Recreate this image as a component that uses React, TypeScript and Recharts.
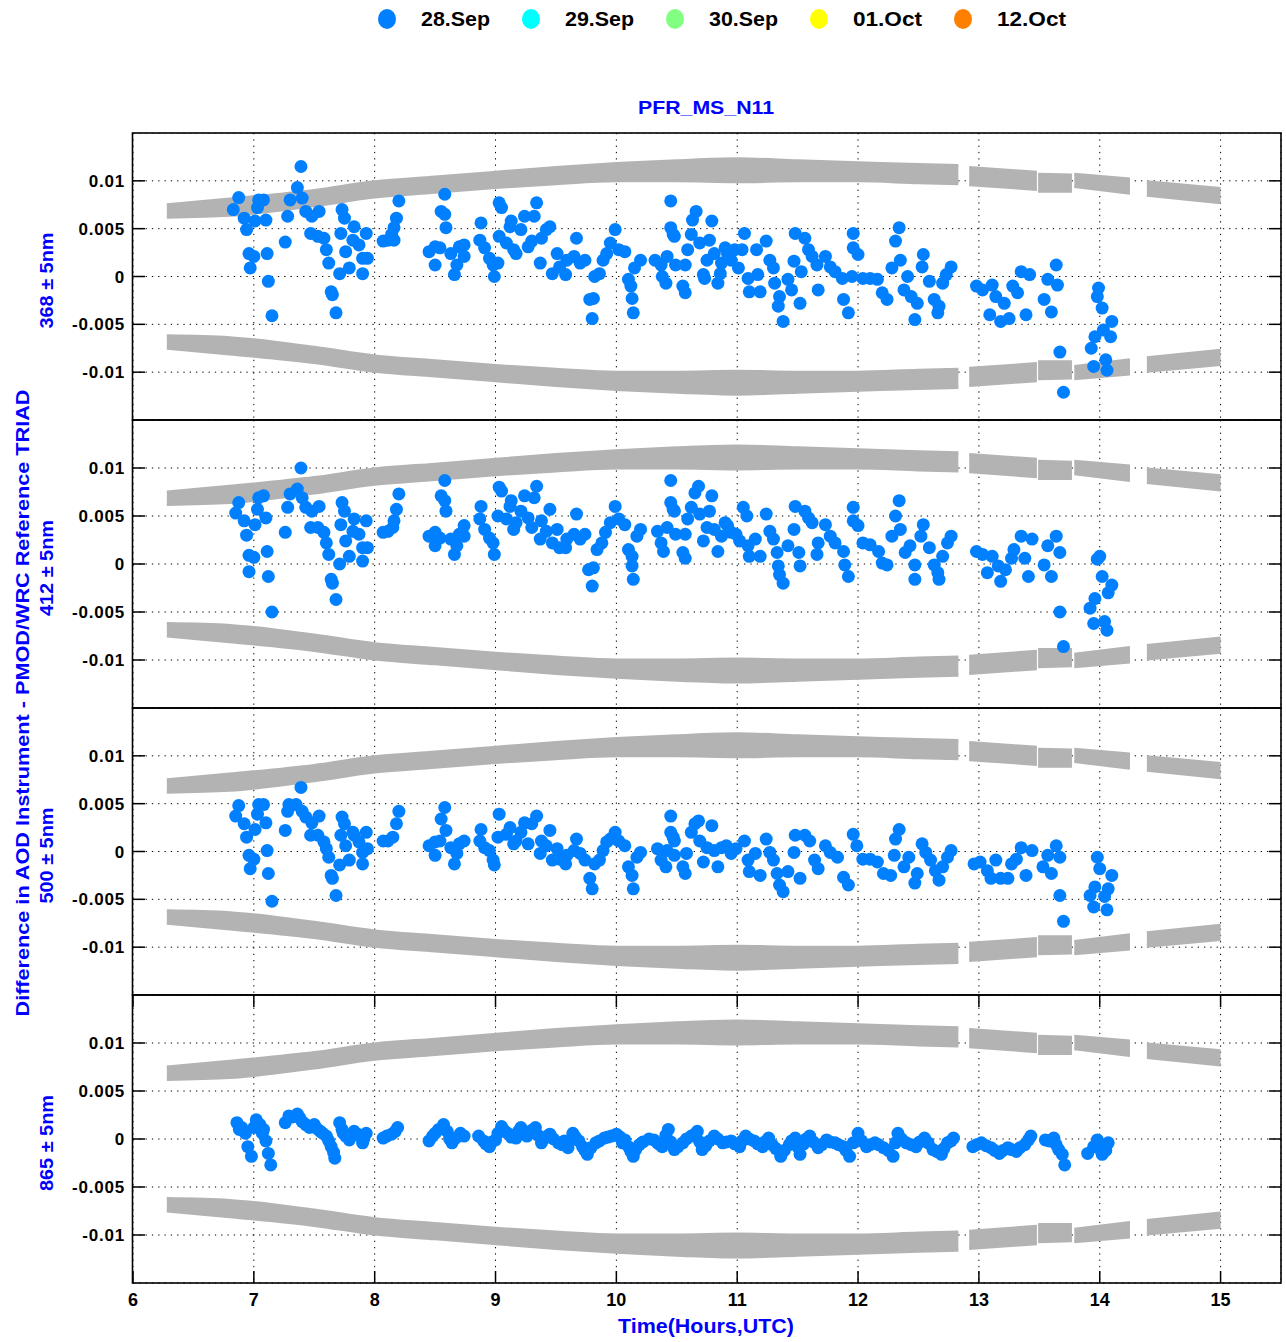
import React from 'react'
import {
  ComposedChart,
  Area,
  Scatter,
  XAxis,
  YAxis,
  CartesianGrid,
} from 'recharts'

// time axis (hours UTC)
const xTicks = [6, 7, 8, 9, 10, 11, 12, 13, 14, 15]
const yTicks = [-0.01, -0.005, 0, 0.005, 0.01]

const legendItems = ['28.Sep', '29.Sep', '30.Sep', '01.Oct', '12.Oct']
const legendColors = ['#0080ff', '#00ffff', '#80ff80', '#ffff00', '#ff8000']

const panelLabels = ['368 ± 5nm', '412 ± 5nm', '500 ± 5nm', '865 ± 5nm']

// grey limit bands (same in every panel), null = gap in the record
const bandX = [6.28, 6.8, 7.5, 8, 8.5, 9, 9.5, 10, 10.5, 11, 11.5, 12, 12.5, 12.83, 12.875, 12.92, 13.48, 13.485, 13.49, 13.77, 13.78, 13.79, 14.25, 14.32, 14.39, 15.0]
const upperLo = [0.0062, 0.0064, 0.0074, 0.0083, 0.0088, 0.0093, 0.0097, 0.01, 0.01, 0.0099, 0.01, 0.01, 0.0098, 0.0097, null, 0.0096, 0.0091, null, 0.0089, 0.0089, null, 0.0094, 0.0087, null, 0.0085, 0.0077]
const upperHi = [0.0075, 0.0081, 0.009, 0.0099, 0.0104, 0.0109, 0.0114, 0.0118, 0.0121, 0.0123, 0.0121, 0.0119, 0.0117, 0.0116, null, 0.0114, 0.0109, null, 0.0107, 0.0106, null, 0.0107, 0.0102, null, 0.0099, 0.0092]
const lowerLo = [-0.0075, -0.0081, -0.009, -0.0099, -0.0104, -0.0109, -0.0114, -0.0118, -0.0121, -0.0123, -0.0121, -0.0119, -0.0117, -0.0116, null, -0.0114, -0.0109, null, -0.0107, -0.0106, null, -0.0107, -0.0102, null, -0.0099, -0.0092]
const lowerHi = [-0.0062, -0.0064, -0.0074, -0.0083, -0.0088, -0.0093, -0.0097, -0.01, -0.01, -0.0099, -0.01, -0.01, -0.0098, -0.0097, null, -0.0096, -0.0091, null, -0.0089, -0.0089, null, -0.0094, -0.0087, null, -0.0085, -0.0077]

// 28.Sep differences, [hour, diff]
const p368: [number, number][] = [
  [6.875, 0.00825], [6.83, 0.007], [6.92, 0.0061], [6.94, 0.0049], [6.96, 0.0024], [7.0, 0.0021], [6.97, 0.0009],
  [7.04, 0.008], [7.08, 0.008], [7.03, 0.0072], [7.01, 0.0058], [7.1, 0.0059], [7.11, 0.0024], [7.12, -0.0005],
  [7.15, -0.0041], [7.26, 0.0036], [7.28, 0.0063], [7.3, 0.008], [7.36, 0.0093], [7.39, 0.0115], [7.4, 0.0082],
  [7.43, 0.0068], [7.48, 0.0063], [7.54, 0.0068], [7.47, 0.0045], [7.53, 0.0042], [7.58, 0.004], [7.6, 0.0028],
  [7.62, 0.0014], [7.64, -0.0016], [7.65, -0.0019], [7.68, -0.0038], [7.71, 0.0003], [7.72, 0.0045], [7.73, 0.007],
  [7.75, 0.0061], [7.76, 0.0026], [7.79, 0.0009], [7.82, 0.0038], [7.83, 0.0052], [7.87, 0.0033], [7.9, 0.0019],
  [7.9, 0.0003], [7.93, 0.0045], [7.94, 0.0019], [8.07, 0.0037], [8.11, 0.0038], [8.14, 0.0044], [8.16, 0.0038],
  [8.18, 0.0061], [8.16, 0.0051], [8.2, 0.0079], [8.45, 0.0026], [8.5, 0.0031], [8.5, 0.0012], [8.54, 0.003],
  [8.55, 0.0068], [8.58, 0.0065], [8.58, 0.0086], [8.59, 0.0051], [8.63, 0.0024], [8.66, 0.0002], [8.68, 0.0012],
  [8.7, 0.0031], [8.74, 0.0033], [8.74, 0.0021], [8.88, 0.0056], [8.87, 0.0038], [8.91, 0.003], [8.95, 0.0019],
  [8.98, 0.0012], [8.99, 0.0], [9.02, 0.0014], [9.03, 0.0077], [9.05, 0.0072], [9.03, 0.0042], [9.09, 0.0035],
  [9.12, 0.0052], [9.13, 0.0058], [9.15, 0.0028], [9.17, 0.0024], [9.21, 0.0049], [9.24, 0.0063], [9.27, 0.0031],
  [9.3, 0.0037], [9.32, 0.0063], [9.34, 0.0077], [9.37, 0.0014], [9.38, 0.004], [9.42, 0.0049], [9.45, 0.0052],
  [9.47, 0.0003], [9.51, 0.0024], [9.53, 0.001], [9.58, 0.0002], [9.59, 0.0017], [9.65, 0.0021], [9.67, 0.004],
  [9.7, 0.0014], [9.74, 0.0017], [9.78, -0.0024], [9.81, -0.0023], [9.8, -0.0044], [9.82, 0.0], [9.86, 0.0003],
  [9.89, 0.0017], [9.92, 0.0024], [9.95, 0.0035], [9.99, 0.0049], [10.02, 0.0028], [10.07, 0.0026], [10.1, -0.0003],
  [10.12, -0.001], [10.13, -0.0023], [10.14, -0.0038], [10.15, 0.0009], [10.2, 0.0017], [10.32, 0.0017],
  [10.37, 0.0012], [10.38, 0.0], [10.41, -0.0007], [10.42, 0.0021], [10.45, 0.0079], [10.45, 0.0051],
  [10.48, 0.0042], [10.49, 0.0012], [10.47, 0.0044], [10.57, 0.0012], [10.59, 0.0028], [10.55, -0.001],
  [10.57, -0.0017], [10.62, 0.0044], [10.63, 0.0059], [10.66, 0.0068], [10.69, 0.0035], [10.72, 0.0002],
  [10.73, -0.0002], [10.75, 0.0017], [10.77, 0.0038], [10.79, 0.0058], [10.81, 0.0024], [10.84, -0.0007],
  [10.86, 0.0003], [10.87, 0.0014], [10.9, 0.003], [10.92, 0.0024], [10.95, 0.0017], [10.98, 0.0028],
  [11.01, 0.0009], [11.04, 0.0028], [11.06, 0.0045], [11.09, -0.0002], [11.1, -0.0016], [11.16, 0.0028],
  [11.17, 0.0002], [11.19, -0.0016], [11.24, 0.0037], [11.27, 0.0017], [11.3, 0.0009], [11.31, -0.0007],
  [11.34, -0.0031], [11.35, -0.0021], [11.38, -0.0047], [11.42, -0.0003], [11.45, -0.0014], [11.47, 0.0016],
  [11.48, 0.0045], [11.52, -0.0028], [11.53, 0.0005], [11.56, 0.004], [11.59, 0.0028], [11.62, 0.0021],
  [11.66, 0.0012], [11.67, -0.0014], [11.73, 0.0021], [11.77, 0.001], [11.81, 0.0005], [11.87, -0.0002],
  [11.88, -0.0024], [11.92, -0.0038], [11.95, 0.0], [11.96, 0.0045], [11.96, 0.003], [12.0, 0.0023],
  [12.04, -0.0002], [12.1, -0.0002], [12.16, -0.0003], [12.2, -0.0017], [12.24, -0.0024], [12.28, 0.0009],
  [12.31, 0.0037], [12.34, 0.0051], [12.35, 0.0017], [12.41, 0.0], [12.38, -0.0014], [12.44, -0.0021],
  [12.47, -0.0045], [12.49, -0.0028], [12.53, 0.001], [12.54, 0.0023], [12.59, -0.0005], [12.63, -0.0024],
  [12.66, -0.0038], [12.67, -0.0031], [12.7, -0.0007], [12.73, 0.0002], [12.77, 0.001], [12.98, -0.001],
  [13.03, -0.0014], [13.09, -0.004], [13.11, -0.0009], [13.14, -0.0021], [13.18, -0.0047], [13.21, -0.0028],
  [13.25, -0.0044], [13.28, -0.001], [13.32, -0.0017], [13.35, 0.0005], [13.39, -0.004], [13.42, 0.0002],
  [13.54, -0.0024], [13.57, -0.0003], [13.6, -0.0037], [13.64, 0.0012], [13.65, -0.0009], [13.67, -0.0079],
  [13.7, -0.0121], [13.93, -0.0075], [13.95, -0.0094], [13.96, -0.0063], [13.98, -0.0021], [13.99, -0.0012],
  [14.02, -0.0033], [14.03, -0.0056], [14.05, -0.0087], [14.06, -0.0098], [14.09, -0.0063], [14.1, -0.0047],
]

const p412: [number, number][] = [
  [6.875, 0.0064], [6.85, 0.0053], [6.92, 0.0045], [6.94, 0.003], [6.96, 0.0009], [7.0, 0.0007], [6.96, -0.0008],
  [7.04, 0.0069], [7.08, 0.0071], [7.03, 0.0057], [7.01, 0.0041], [7.1, 0.0048], [7.11, 0.0013], [7.12, -0.0013],
  [7.15, -0.005], [7.26, 0.0033], [7.28, 0.0059], [7.3, 0.0073], [7.36, 0.0078], [7.39, 0.01], [7.4, 0.0069],
  [7.43, 0.0059], [7.48, 0.0055], [7.54, 0.006], [7.47, 0.0038], [7.53, 0.0038], [7.58, 0.0033], [7.6, 0.0022],
  [7.62, 0.001], [7.64, -0.0016], [7.65, -0.002], [7.68, -0.0037], [7.71, 0.0], [7.72, 0.0041], [7.73, 0.0064],
  [7.75, 0.0055], [7.76, 0.0024], [7.79, 0.0008], [7.82, 0.0034], [7.83, 0.0047], [7.87, 0.0031], [7.9, 0.0017],
  [7.9, 0.0003], [7.93, 0.0045], [7.94, 0.0017], [8.07, 0.0033], [8.11, 0.0034], [8.15, 0.0038], [8.16, 0.0045],
  [8.18, 0.0057], [8.2, 0.0073], [8.45, 0.0029], [8.5, 0.0033], [8.5, 0.0019], [8.54, 0.0027], [8.55, 0.0071],
  [8.58, 0.0066], [8.58, 0.0087], [8.59, 0.0055], [8.63, 0.0026], [8.66, 0.001], [8.68, 0.0019], [8.7, 0.0031],
  [8.74, 0.004], [8.74, 0.0029], [8.88, 0.006], [8.87, 0.0047], [8.91, 0.0036], [8.95, 0.0027], [8.98, 0.0022],
  [8.99, 0.001], [9.02, 0.005], [9.03, 0.008], [9.05, 0.0076], [9.09, 0.0047], [9.12, 0.006], [9.13, 0.0066],
  [9.15, 0.0036], [9.17, 0.0043], [9.21, 0.0055], [9.24, 0.0071], [9.27, 0.0048], [9.3, 0.0038], [9.32, 0.0069],
  [9.34, 0.0081], [9.37, 0.0026], [9.38, 0.0045], [9.42, 0.0034], [9.45, 0.0057], [9.47, 0.0022], [9.51, 0.0036],
  [9.53, 0.0017], [9.58, 0.0017], [9.59, 0.0026], [9.65, 0.0031], [9.67, 0.0052], [9.7, 0.0026], [9.74, 0.0031],
  [9.77, -0.0006], [9.81, -0.0004], [9.8, -0.0023], [9.84, 0.0015], [9.88, 0.0022], [9.91, 0.0033], [9.95, 0.0043],
  [9.99, 0.006], [10.02, 0.0047], [10.07, 0.0041], [10.1, 0.0015], [10.13, 0.0008], [10.13, -0.0002],
  [10.14, -0.0016], [10.17, 0.0029], [10.2, 0.0036], [10.34, 0.0034], [10.37, 0.0022], [10.39, 0.0013],
  [10.42, 0.0038], [10.45, 0.0087], [10.45, 0.0064], [10.48, 0.0055], [10.49, 0.0031], [10.47, 0.0057],
  [10.57, 0.0031], [10.59, 0.0047], [10.55, 0.0012], [10.57, 0.0006], [10.62, 0.0059], [10.65, 0.0074],
  [10.68, 0.0081], [10.69, 0.0052], [10.72, 0.0024], [10.75, 0.0038], [10.77, 0.0055], [10.79, 0.0071],
  [10.81, 0.0036], [10.84, 0.0013], [10.87, 0.0029], [10.9, 0.0043], [10.92, 0.004], [10.95, 0.0033],
  [10.99, 0.0031], [11.02, 0.0024], [11.05, 0.0059], [11.08, 0.005], [11.09, 0.0019], [11.1, 0.0008],
  [11.15, 0.0026], [11.19, 0.0008], [11.24, 0.0052], [11.27, 0.0034], [11.3, 0.0026], [11.33, 0.0012],
  [11.34, -0.0002], [11.35, -0.0011], [11.38, -0.002], [11.42, 0.0019], [11.47, 0.0036], [11.48, 0.006],
  [11.51, 0.0012], [11.52, -0.0002], [11.56, 0.0055], [11.59, 0.0048], [11.62, 0.0043], [11.66, 0.001],
  [11.67, 0.0022], [11.73, 0.0041], [11.77, 0.0029], [11.81, 0.0022], [11.88, 0.0013], [11.89, -0.0001],
  [11.92, -0.0013], [11.96, 0.0059], [11.96, 0.0045], [12.0, 0.004], [12.04, 0.0022], [12.1, 0.002],
  [12.17, 0.0013], [12.2, 0.0001], [12.24, -0.0001], [12.28, 0.0029], [12.31, 0.005], [12.34, 0.0066],
  [12.35, 0.0036], [12.39, 0.0012], [12.43, 0.0019], [12.47, -0.0001], [12.47, -0.0016], [12.52, 0.0029],
  [12.54, 0.0041], [12.59, 0.0017], [12.63, -0.0001], [12.66, -0.0009], [12.67, -0.0016], [12.7, 0.0008],
  [12.74, 0.0022], [12.77, 0.0029], [12.98, 0.0013], [13.03, 0.001], [13.07, -0.0009], [13.11, 0.0008],
  [13.16, -0.0002], [13.18, -0.0018], [13.22, -0.0006], [13.27, 0.0006], [13.29, 0.0015], [13.35, 0.0029],
  [13.38, 0.0006], [13.41, -0.0013], [13.44, 0.0026], [13.54, -0.0001], [13.57, 0.0019], [13.6, -0.0013],
  [13.64, 0.0029], [13.67, 0.0012], [13.67, -0.005], [13.7, -0.0086], [13.92, -0.0046], [13.95, -0.0062],
  [13.96, -0.0036], [13.98, 0.0005], [14.0, 0.0008], [14.02, -0.0013], [14.04, -0.006], [14.06, -0.0069],
  [14.07, -0.003], [14.1, -0.0022],
]

const p500: [number, number][] = [
  [6.875, 0.0048], [6.85, 0.0037], [6.92, 0.0029], [6.94, 0.0015], [6.96, -0.0004], [7.0, -0.0008], [6.97, -0.0018],
  [7.04, 0.0049], [7.08, 0.0049], [7.03, 0.0039], [7.01, 0.0023], [7.1, 0.003], [7.11, 0.0001], [7.12, -0.0023],
  [7.15, -0.0052], [7.26, 0.0022], [7.28, 0.0042], [7.29, 0.0049], [7.35, 0.0049], [7.39, 0.0067], [7.4, 0.0042],
  [7.43, 0.0036], [7.48, 0.003], [7.54, 0.0037], [7.47, 0.0017], [7.53, 0.0017], [7.58, 0.001], [7.6, 0.0003],
  [7.62, -0.0006], [7.64, -0.0025], [7.65, -0.0028], [7.68, -0.0046], [7.71, -0.0014], [7.72, 0.0017],
  [7.73, 0.0036], [7.75, 0.0029], [7.76, 0.0006], [7.79, -0.0009], [7.82, 0.002], [7.83, 0.0017], [7.87, 0.001],
  [7.9, -0.0001], [7.9, -0.0013], [7.93, 0.002], [7.94, 0.0003], [8.07, 0.0011], [8.11, 0.0011], [8.15, 0.0015],
  [8.18, 0.0029], [8.2, 0.0042], [8.45, 0.0006], [8.5, 0.001], [8.5, -0.0004], [8.54, 0.0011], [8.55, 0.0034],
  [8.58, 0.0046], [8.59, 0.0022], [8.63, 0.0004], [8.66, -0.0013], [8.68, -0.0002], [8.7, 0.0008], [8.74, 0.0011],
  [8.88, 0.0023], [8.87, 0.0011], [8.91, 0.0004], [8.95, 0.0001], [8.98, -0.0009], [8.99, -0.0014], [9.02, 0.0015],
  [9.03, 0.0039], [9.09, 0.0018], [9.12, 0.0025], [9.15, 0.0008], [9.17, 0.0011], [9.21, 0.002], [9.24, 0.003],
  [9.27, 0.0008], [9.3, 0.0029], [9.34, 0.0037], [9.37, -0.0002], [9.38, 0.0011], [9.42, 0.0006], [9.45, 0.0022],
  [9.47, -0.0009], [9.51, 0.0003], [9.53, -0.0008], [9.58, -0.0013], [9.59, -0.0004], [9.65, 0.0001],
  [9.67, 0.0013], [9.7, -0.0002], [9.74, -0.0009], [9.78, -0.0028], [9.8, -0.0039], [9.82, -0.0013],
  [9.86, -0.0009], [9.89, 0.0001], [9.92, 0.001], [9.95, 0.0013], [9.99, 0.002], [10.02, 0.0011], [10.07, 0.0006],
  [10.1, -0.0016], [10.13, -0.0025], [10.14, -0.0039], [10.17, -0.0006], [10.2, -0.0001], [10.34, 0.0003],
  [10.37, -0.0009], [10.41, -0.0016], [10.42, 0.0001], [10.45, 0.0037], [10.45, 0.002], [10.48, 0.0011],
  [10.47, 0.0015], [10.48, -0.0004], [10.55, -0.0016], [10.57, -0.0023], [10.58, -0.0002], [10.62, 0.002],
  [10.65, 0.0029], [10.68, 0.0032], [10.69, 0.0011], [10.72, -0.0011], [10.75, 0.0004], [10.79, 0.0027],
  [10.81, 0.0001], [10.84, -0.0016], [10.87, 0.0004], [10.91, 0.0006], [10.95, -0.0002], [10.99, 0.0003],
  [11.06, 0.0011], [11.09, -0.0009], [11.1, -0.0021], [11.15, -0.0002], [11.19, -0.0025], [11.24, 0.0013],
  [11.27, -0.0001], [11.3, -0.0009], [11.33, -0.0023], [11.35, -0.0035], [11.38, -0.0042], [11.42, -0.0021],
  [11.47, -0.0001], [11.48, 0.0017], [11.52, -0.0028], [11.56, 0.0017], [11.6, 0.0011], [11.64, -0.0009],
  [11.67, -0.0018], [11.73, 0.0006], [11.77, -0.0001], [11.83, -0.0006], [11.88, -0.0027], [11.92, -0.0035],
  [11.96, 0.0018], [11.99, 0.0006], [12.04, -0.0008], [12.1, -0.0008], [12.16, -0.0011], [12.21, -0.0023],
  [12.27, -0.0025], [12.3, -0.0004], [12.31, 0.0013], [12.34, 0.0023], [12.38, -0.0016], [12.42, -0.0006],
  [12.47, -0.0033], [12.49, -0.0023], [12.53, 0.0008], [12.56, -0.0001], [12.6, -0.0009], [12.64, -0.002],
  [12.67, -0.003], [12.7, -0.0016], [12.74, -0.0006], [12.77, 0.0001], [12.96, -0.0013], [13.01, -0.0011],
  [13.07, -0.002], [13.1, -0.0028], [13.14, -0.0009], [13.18, -0.0028], [13.24, -0.0028], [13.27, -0.0013],
  [13.31, -0.0008], [13.35, 0.0004], [13.39, -0.0025], [13.44, 0.0001], [13.53, -0.0016], [13.57, -0.0004],
  [13.6, -0.0023], [13.64, 0.0006], [13.67, -0.0006], [13.67, -0.0046], [13.7, -0.0073], [13.92, -0.0046],
  [13.95, -0.0058], [13.96, -0.0037], [13.98, -0.0006], [14.0, -0.0018], [14.04, -0.0047], [14.06, -0.0061],
  [14.07, -0.0039], [14.1, -0.0025],
]

const p865: [number, number][] = [
  [6.86, 0.0017], [6.88, 0.001], [6.9, 0.0012], [6.93, 0.0006], [6.95, -0.0008], [6.98, -0.0018], [7.0, 0.0012],
  [7.02, 0.002], [7.05, 0.0015], [7.07, 0.0006], [7.08, 0.001], [7.1, -0.0002], [7.12, -0.0015], [7.14, -0.0027],
  [7.26, 0.0017], [7.29, 0.0024], [7.32, 0.0023], [7.36, 0.0026], [7.38, 0.0022], [7.4, 0.0018], [7.43, 0.0015],
  [7.46, 0.0012], [7.5, 0.0015], [7.52, 0.0011], [7.55, 0.0008], [7.57, 0.0006], [7.6, 0.0003], [7.62, -0.0002],
  [7.64, -0.0008], [7.66, -0.0014], [7.67, -0.002], [7.71, 0.0017], [7.73, 0.001], [7.74, 0.0006], [7.76, 0.0003],
  [7.79, -0.0001], [7.81, 0.0004], [7.83, 0.0008], [7.86, 0.0005], [7.88, 0.0003], [7.9, -0.0004], [7.91, 0.0],
  [7.93, 0.0006], [8.07, 0.0001], [8.1, 0.0003], [8.14, 0.0005], [8.17, 0.0008], [8.19, 0.0012],
  [8.45, -0.0002], [8.48, 0.0003], [8.5, 0.0006], [8.53, 0.001], [8.57, 0.0015], [8.6, 0.0008], [8.62, 0.0],
  [8.64, -0.0004], [8.67, 0.0001], [8.71, 0.0006], [8.74, 0.0003], [8.86, 0.0003], [8.9, -0.0002], [8.92, -0.0005],
  [8.95, -0.0008], [8.97, -0.0003], [9.0, -0.0001], [9.02, 0.0006], [9.05, 0.0013], [9.07, 0.0009], [9.1, 0.0006],
  [9.13, 0.0002], [9.17, 0.0001], [9.19, 0.0008], [9.21, 0.0012], [9.23, 0.0007], [9.26, 0.0003], [9.28, 0.0006],
  [9.3, 0.0009], [9.33, 0.0012], [9.35, 0.0004], [9.38, -0.0004], [9.4, 0.0], [9.43, 0.0003], [9.45, 0.0005],
  [9.48, 0.0], [9.52, -0.0004], [9.55, -0.0006], [9.57, -0.0002], [9.6, -0.0009], [9.62, -0.0001], [9.64, 0.0006],
  [9.66, 0.0002], [9.69, -0.0002], [9.72, -0.0008], [9.74, -0.0012], [9.76, -0.0016], [9.79, -0.0009],
  [9.83, -0.0004], [9.86, -0.0002], [9.9, 0.0001], [9.93, 0.0002], [9.96, 0.0003], [10.0, 0.0005], [10.03, 0.0002],
  [10.05, -0.0004], [10.07, -0.0001], [10.1, -0.0008], [10.12, -0.0013], [10.14, -0.0018], [10.16, -0.0011],
  [10.19, -0.0006], [10.22, -0.0003], [10.27, 0.0], [10.31, -0.0001], [10.34, -0.0004], [10.36, -0.0006],
  [10.38, -0.0008], [10.41, 0.0004], [10.43, 0.001], [10.45, -0.0003], [10.48, -0.0011], [10.51, -0.0008],
  [10.55, -0.0004], [10.58, 0.0], [10.62, 0.0003], [10.65, 0.0005], [10.67, 0.0008], [10.69, -0.0003],
  [10.71, -0.0011], [10.74, -0.0007], [10.77, -0.0002], [10.81, 0.0003], [10.84, 0.0], [10.88, -0.0004],
  [10.91, -0.0003], [10.95, -0.0002], [10.98, -0.0005], [11.02, -0.0008], [11.04, -0.0002], [11.07, 0.0003],
  [11.1, 0.0], [11.14, -0.0002], [11.17, -0.0005], [11.21, -0.0008], [11.23, -0.0003], [11.26, 0.0001],
  [11.29, -0.0006], [11.32, -0.001], [11.36, -0.0018], [11.39, -0.0012], [11.43, -0.0006], [11.45, -0.0002],
  [11.48, 0.0001], [11.5, -0.0008], [11.52, -0.0016], [11.55, -0.0005], [11.57, 0.0], [11.6, 0.0003],
  [11.63, -0.0003], [11.67, -0.0009], [11.7, -0.0006], [11.74, -0.0001], [11.77, -0.0003], [11.81, -0.0004],
  [11.84, -0.0006], [11.88, -0.0008], [11.9, -0.0012], [11.93, -0.0018], [11.96, -0.0004], [12.0, 0.0006],
  [12.03, -0.0002], [12.07, -0.0008], [12.1, -0.0006], [12.14, -0.0004], [12.17, -0.0006], [12.21, -0.0009],
  [12.25, -0.0012], [12.29, -0.0018], [12.31, -0.0004], [12.33, 0.0006], [12.36, 0.0], [12.4, -0.0004],
  [12.44, -0.0006], [12.48, -0.0008], [12.51, -0.0003], [12.55, 0.0001], [12.58, -0.0004], [12.62, -0.0011],
  [12.65, -0.0013], [12.69, -0.0016], [12.71, -0.001], [12.74, -0.0004], [12.77, -0.0002], [12.79, 0.0001],
  [12.95, -0.0008], [12.98, -0.0006], [13.02, -0.0004], [13.06, -0.0007], [13.1, -0.0009], [13.13, -0.0012],
  [13.17, -0.0015], [13.2, -0.0012], [13.24, -0.0009], [13.27, -0.0011], [13.31, -0.0013], [13.34, -0.0009],
  [13.38, -0.0006], [13.41, -0.0001], [13.43, 0.0003], [13.55, -0.0001], [13.58, -0.0002], [13.62, 0.0001],
  [13.64, -0.0006], [13.66, -0.0011], [13.69, -0.0016], [13.71, -0.0027], [13.9, -0.0015], [13.95, -0.0008],
  [13.98, -0.0001], [14.0, -0.001], [14.02, -0.0016], [14.05, -0.0012], [14.07, -0.0004],
]

const panelData = [p368, p412, p500, p865]

const BLUE = '#0000ff'
const GREY = '#b3b3b3'
const FONT = "'Liberation Sans', Arial, sans-serif"

const panelTops = [133, 420, 708, 995]
const panelHeights = [287, 288, 287, 288]
const CHART_W = 1282
const PLOT_L = 133
const PLOT_R = 1281

const bandRows = bandX.map((x, i) => ({
  x,
  up: upperLo[i] === null ? null : [upperLo[i], upperHi[i]],
  dn: lowerLo[i] === null ? null : [lowerLo[i], lowerHi[i]],
}))

const dot = (props: any) => (
  <circle cx={props.cx} cy={props.cy} r={6.5} fill="#0080ff" />
)

function Panel({ idx }: { idx: number }) {
  const h = panelHeights[idx]
  const last = idx === 3
  const axisH = last ? 60 : 0
  const pts = panelData[idx].map(([x, y]) => ({ x, y }))

  const yTick = (props: any) => {
    const { y, payload } = props
    return (
      <g>
        <text x={125} y={y + 6} textAnchor="end" fontFamily={FONT} fontWeight="bold" fontSize={17} letterSpacing={0.8} fill="#000">
          {String(payload.value)}
        </text>
        <line x1={PLOT_L} x2={PLOT_L + 12} y1={y} y2={y} stroke="#000" strokeWidth={1.5} />
        <line x1={PLOT_R - 12} x2={PLOT_R} y1={y} y2={y} stroke="#000" strokeWidth={1.5} />
      </g>
    )
  }

  const xTick = (props: any) => {
    const { x, payload } = props
    return (
      <g>
        <line x1={x} x2={x} y1={h - 12} y2={h} stroke="#000" strokeWidth={1.5} />
        <line x1={x} x2={x} y1={0} y2={12} stroke="#000" strokeWidth={1.5} />
        {last && (
          <text x={x} y={h + 23} textAnchor="middle" fontFamily={FONT} fontWeight="bold" fontSize={18} fill="#000">
            {payload.value}
          </text>
        )}
      </g>
    )
  }

  return (
    <div style={{ position: 'absolute', left: 0, top: panelTops[idx] }}>
      <ComposedChart
        width={CHART_W}
        height={h + axisH}
        data={bandRows}
        margin={{ top: 0, right: CHART_W - PLOT_R, bottom: 0, left: 0 }}
      >
        <CartesianGrid stroke="#000" strokeWidth={1} strokeDasharray="1.3 5" />
        <XAxis
          dataKey="x"
          type="number"
          domain={[6, 15.5]}
          ticks={xTicks}
          interval={0}
          allowDataOverflow
          height={axisH}
          axisLine={false}
          tickLine={false}
          tick={xTick}
        />
        <YAxis
          dataKey="y"
          type="number"
          domain={[-0.015, 0.015]}
          ticks={yTicks}
          interval={0}
          allowDataOverflow
          width={PLOT_L}
          axisLine={false}
          tickLine={false}
          tick={yTick}
        />
        <Area dataKey="up" type="monotone" stroke={GREY} strokeWidth={3} strokeLinejoin="round" fill={GREY} fillOpacity={1} isAnimationActive={false} connectNulls={false} />
        <Area dataKey="dn" type="monotone" stroke={GREY} strokeWidth={3} strokeLinejoin="round" fill={GREY} fillOpacity={1} isAnimationActive={false} connectNulls={false} />
        <Scatter data={pts} fill="#0080ff" shape={dot} isAnimationActive={false} />
      </ComposedChart>
    </div>
  )
}

export default function App() {
  return (
    <div style={{ position: 'absolute', left: 0, top: 0, width: 1286, height: 1342, background: '#fff' }}>
      {[0, 1, 2, 3].map(i => (
        <Panel key={i} idx={i} />
      ))}
      <svg width={1286} height={1342} style={{ position: 'absolute', left: 0, top: 0, pointerEvents: 'none' }}>
        {legendItems.map((name, i) => (
          <g key={name}>
            <ellipse cx={387 + i * 144} cy={19} rx={9} ry={10} fill={legendColors[i]} />
            <text x={421 + i * 144} y={26} fontFamily={FONT} fontWeight="bold" fontSize={20} textLength={69} lengthAdjust="spacingAndGlyphs" fill="#000">
              {name}
            </text>
          </g>
        ))}
        <text x={706} y={114} textAnchor="middle" fontFamily={FONT} fontWeight="bold" fontSize={19} textLength={136} lengthAdjust="spacingAndGlyphs" fill={BLUE}>
          PFR_MS_N11
        </text>
        {panelTops.map((t, i) => (
          <rect key={t} x={PLOT_L - 0.5} y={t} width={PLOT_R - PLOT_L + 0.5} height={panelHeights[i]} fill="none" stroke="#000" strokeWidth={1.6} />
        ))}
        <text
          x={29}
          y={703}
          transform="rotate(-90 29 703)"
          textAnchor="middle"
          fontFamily={FONT}
          fontWeight="bold"
          fontSize={19}
          textLength={627}
          lengthAdjust="spacingAndGlyphs"
          fill={BLUE}
        >
          Difference in AOD  Instrument - PMOD/WRC Reference  TRIAD
        </text>
        {panelLabels.map((lab, i) => {
          const cy = panelTops[i] + panelHeights[i] / 2 + 4
          return (
            <text
              key={lab}
              x={53}
              y={cy}
              transform={`rotate(-90 53 ${cy})`}
              textAnchor="middle"
              fontFamily={FONT}
              fontWeight="bold"
              fontSize={18}
              textLength={96}
              lengthAdjust="spacingAndGlyphs"
              fill={BLUE}
            >
              {lab}
            </text>
          )
        })}
        <text x={706} y={1333} textAnchor="middle" fontFamily={FONT} fontWeight="bold" fontSize={20} textLength={176} lengthAdjust="spacingAndGlyphs" fill={BLUE}>
          Time(Hours,UTC)
        </text>
      </svg>
    </div>
  )
}
